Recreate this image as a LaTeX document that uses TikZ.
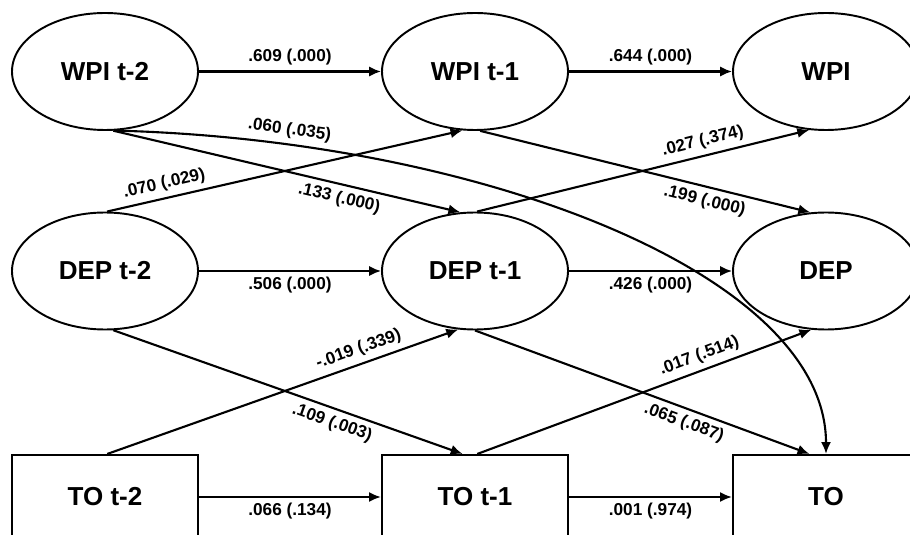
\documentclass[tikz,border=0pt]{standalone}
\usepackage{fontspec}
\setmainfont{Liberation Sans}
\usetikzlibrary{shapes.geometric,arrows.meta}
\begin{document}
\begin{tikzpicture}
		\tikzset{latent/.style = {shape=ellipse, draw, line width=0.55pt, minimum width=1.86cm, minimum height=1.17cm, inner sep=0pt, font=\fontsize{7.4}{9}\selectfont\bfseries},
			observed/.style = {shape=rectangle, draw, line width=0.6pt, minimum width=1.86cm, minimum height=0.84cm, inner sep=0pt, font=\fontsize{7.4}{9}\selectfont\bfseries},
			effect/.style = {line width=0.6pt, -{Latex[length=3.4pt,width=2.9pt]}},
			coef/.style = {font=\fontsize{4.9}{6}\selectfont\bfseries, inner sep=1.5pt}}

		\clip (0,0) rectangle (9.1,5.34);

		\node[latent] (WPI_2) at (1.05,4.625) {WPI t-2};
		\node[latent] (WPI_1) at (4.75,4.625) {WPI t-1};
		\node[latent] (WPI_0) at (8.26,4.625) {WPI};

		\node[latent] (DEP_2) at (1.05,2.63) {DEP t-2};
		\node[latent] (DEP_1) at (4.75,2.63) {DEP t-1};
		\node[latent] (DEP_0) at (8.26,2.63) {DEP};

		\node[observed] (TO_2) at (1.05,0.37) {TO t-2};
		\node[observed] (TO_1) at (4.75,0.37) {TO t-1};
		\node[observed] (TO_0) at (8.26,0.37) {TO};

		\draw[effect] (WPI_2)--(WPI_1) node[coef, midway, above] {.609 (.000)};
		\draw[effect] (WPI_1)--(WPI_0) node[coef, midway, above] {.644 (.000)};
		\draw[effect] (DEP_2)--(DEP_1) node[coef, midway, below] {.506 (.000)};
		\draw[effect] (DEP_1)--(DEP_0) node[coef, midway, below] {.426 (.000)};
		\draw[effect] (TO_2)--(TO_1) node[coef, midway, below] {.066 (.134)};
		\draw[effect] (TO_1)--(TO_0) node[coef, midway, below] {.001 (.974)};

		\draw[effect] (WPI_2.-82)--(DEP_1.104) node[coef, pos=0.66, sloped, below] {.133 (.000)};
		\draw[effect] (DEP_2.88)--(WPI_1.-102) node[coef, pos=0.17, sloped, above] {.070 (.029)};
		\draw[effect] (WPI_1.-85)--(DEP_0.105) node[coef, pos=0.69, sloped, below] {.199 (.000)};
		\draw[effect] (DEP_1.88)--(WPI_0.-106) node[coef, pos=0.69, sloped, above] {.027 (.374)};

		\draw[effect] (DEP_2.-82)--(TO_1.106) node[coef, pos=0.64, sloped, below] {.109 (.003)};
		\draw[effect] (TO_2.87)--(DEP_1.-106) node[coef, pos=0.73, sloped, above] {-.019 (.339)};
		\draw[effect] (DEP_1.-90)--(TO_0.111) node[coef, pos=0.64, sloped, below] {.065 (.087)};
		\draw[effect] (TO_1.87)--(DEP_0.-104) node[coef, pos=0.68, sloped, above] {.017 (.514)};

		\draw[effect] (WPI_2.-80) .. controls (4.8,3.94) and (8.26,2.6) .. (TO_0.north) node[coef, pos=0.16, sloped, above] {.060 (.035)};

	\end{tikzpicture}
\end{document}
